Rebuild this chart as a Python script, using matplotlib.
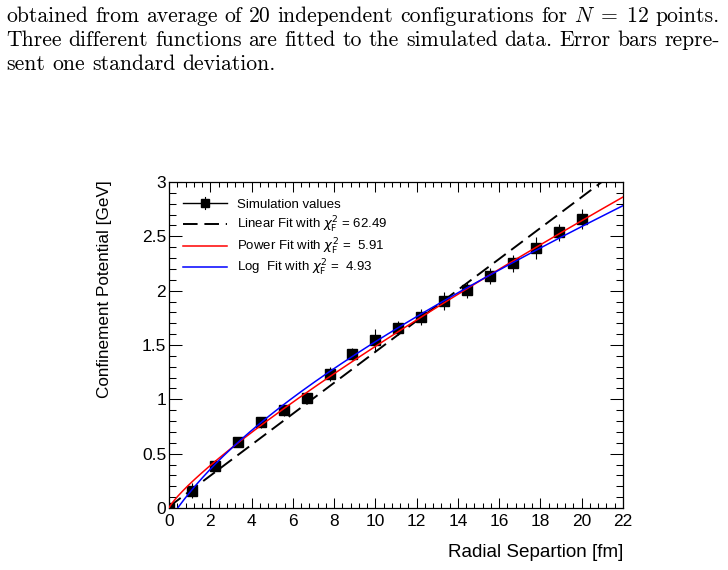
import numpy as np
import matplotlib
matplotlib.use("Agg")
import matplotlib.pyplot as plt
from matplotlib.ticker import MultipleLocator, FormatStrFormatter

# simulated points
r_sim = [0.0, 1.11, 2.22, 3.33, 4.44, 5.56, 6.67, 7.78, 8.89, 10.0,
         11.11, 12.22, 13.33, 14.44, 15.56, 16.67, 17.78, 18.89, 20.0]
v_sim = [0.0, 0.16, 0.39, 0.61, 0.79, 0.90, 1.01, 1.23, 1.42, 1.545,
         1.66, 1.757, 1.905, 2.006, 2.136, 2.253, 2.39, 2.536, 2.66]
v_err = [0.02, 0.07, 0.05, 0.04, 0.05, 0.05, 0.05, 0.065, 0.055, 0.10,
         0.065, 0.074, 0.08, 0.077, 0.074, 0.077, 0.10, 0.077, 0.09]

# fit parameters
lin_slope, lin_icpt = 0.1425, 0.012
pow_amp, pow_exp = 0.22, 0.83
log_a, log_b, log_c, log_d = -0.831, 0.0688, 0.6523, 3.0

leg_labels = ["Simulation values",
              r"Linear Fit with $\chi^{2}_{\mathrm{F}}$ = 62.49",
              r"Power Fit with $\chi^{2}_{\mathrm{F}}$ =  5.91",
              r"Log  Fit with $\chi^{2}_{\mathrm{F}}$ =  4.93"]

caption = [
    ("obtained from average of 20 independent configurations for $N\\;=\\;12$ points.", True),
    ("Three different functions are fitted to the simulated data. Error bars repre-", True),
    ("sent one standard deviation.", False),
]

plt.rcParams["font.family"] = ["Liberation Sans", "DejaVu Sans"]

W, H = 728, 570
fig = plt.figure(figsize=(W / 100, H / 100), dpi=100)
ax = fig.add_axes([169 / W, 62 / H, 454 / W, 326 / H])

# caption, justified like the paper text
renderer = fig.canvas.get_renderer()
cap_y = [21.5, 46, 70]
cap_size = 15.6
for (line, justify), ypx in zip(caption, cap_y):
    words = line.split(" ")
    txts = [fig.text(0, 1 - ypx / H, w, fontsize=cap_size, family="cmr10",
                     math_fontfamily="cm", va="baseline") for w in words]
    widths = [t.get_window_extent(renderer).width for t in txts]
    x0, x1 = 6, 720
    gap = (x1 - x0 - sum(widths)) / (len(words) - 1) if justify else 0.333 * cap_size * 100 / 72
    x = x0
    for t, w in zip(txts, widths):
        t.set_x(x / W)
        x += w + gap

rr = np.linspace(0, 22, 500)
ax.errorbar(r_sim, v_sim, yerr=v_err, fmt="s", color="k", ms=6.6,
            elinewidth=0.8, capsize=0, zorder=3)
ax.plot(rr, lin_slope * rr + lin_icpt, color="k", lw=1.4,
        dashes=(7.5, 3.5), zorder=4)
ax.plot(rr, pow_amp * rr ** pow_exp, color="#ff0000", lw=1.1, zorder=4)
ax.plot(rr, log_a + log_b * rr + log_c * np.log(rr + log_d),
        color="#0000ff", lw=1.1, zorder=5)

# legend, drawn by hand in axes coordinates (ROOT TLegend look)
leg_y = [0.9356, 0.8712, 0.8037, 0.7393]
lx0, lx1, ltx = 0.0308, 0.1278, 0.1498
tr = ax.transAxes
ax.plot([lx0, lx1], [leg_y[0]] * 2, color="k", lw=1.0, transform=tr, clip_on=False)
ax.plot([(lx0 + lx1) / 2] * 2, [leg_y[0] - 0.018, leg_y[0] + 0.018], color="k",
        lw=0.8, transform=tr, clip_on=False)
ax.plot([(lx0 + lx1) / 2], [leg_y[0]], "s", color="k", ms=5.6, transform=tr, clip_on=False)
ax.plot([lx0, lx1], [leg_y[1]] * 2, color="k", lw=1.4, dashes=(7.5, 3.5), transform=tr)
ax.plot([lx0, lx1], [leg_y[2]] * 2, color="#ff0000", lw=1.1, transform=tr)
ax.plot([lx0, lx1], [leg_y[3]] * 2, color="#0000ff", lw=1.1, transform=tr)
for lab, yy in zip(leg_labels, leg_y):
    ax.text(ltx, yy - 0.0145, lab, fontsize=9.5, transform=tr, va="baseline")

ax.set_xlim(0, 22)
ax.set_ylim(0, 3)
ax.xaxis.set_major_locator(MultipleLocator(2))
ax.xaxis.set_minor_locator(MultipleLocator(0.4))
ax.yaxis.set_major_locator(MultipleLocator(0.5))
ax.yaxis.set_minor_locator(MultipleLocator(0.1))
ax.yaxis.set_major_formatter(FormatStrFormatter("%g"))
ax.tick_params(which="both", direction="in", top=True, right=True,
               width=0.75, labelsize=12.5)
ax.tick_params(axis="x", which="major", length=7.2, pad=4)
ax.tick_params(axis="x", which="minor", length=3.6)
ax.tick_params(axis="y", which="major", length=9.4, pad=2)
ax.tick_params(axis="y", which="minor", length=4.7)
for s in ax.spines.values():
    s.set_linewidth(0.9)

ax.set_xlabel("Radial Separtion [fm]", fontsize=13.6, ha="right", va="center")
ax.xaxis.set_label_coords(1.0, -0.138)
ax.set_ylabel("Confinement Potential [GeV]", fontsize=12.3, ha="right",
              va="center", rotation_mode="anchor")
ax.yaxis.set_label_coords(-0.141, 1.006)

fig.savefig("out.png", dpi=100)
